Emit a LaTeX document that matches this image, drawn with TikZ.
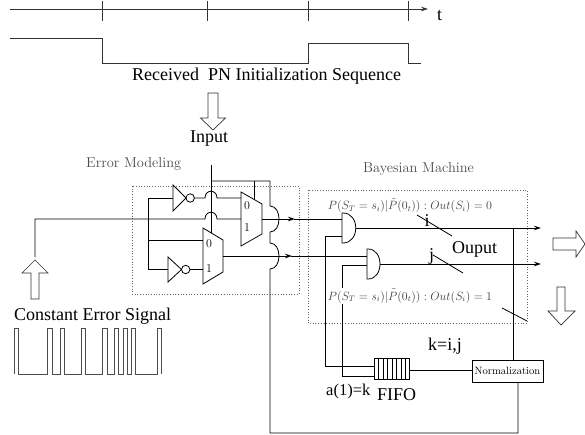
\documentclass[tikz,border=0pt]{standalone}
\usepackage{fontspec}
\newfontfamily\tms{Liberation Serif}
\usetikzlibrary{arrows.meta}
\begin{document}
\begin{tikzpicture}[x=1pt,y=-1pt,
  wire/.style={line width=0.8pt},
  thinwire/.style={line width=0.7pt, draw=black!80},
  big/.style={font=\tms\fontsize{18}{20}\selectfont, inner sep=0pt},
  cmlab/.style={font=\fontsize{14.4}{16}\selectfont, text=black!70, inner sep=0pt},
  formula/.style={font=\fontsize{11.5}{13}\selectfont, text=black!75, inner sep=1pt},
  muxlab/.style={font=\fontsize{12}{14}\selectfont, inner sep=0pt},
  hollow/.style={draw=black!80, line width=0.7pt, fill=white},
  dotbox/.style={draw=black!60, dotted, line width=0.7pt},
  tip/.style={-{Stealth[length=7pt,width=4.5pt]}}]
\useasboundingbox (0,0) rectangle (585,435);

% ---- timeline
\coordinate (tl0) at (10,9);
\coordinate (tl1) at (428,9);
\draw[thinwire,tip] (tl0) -- (tl1);
\foreach \x in {102,207,308,408} \draw[thinwire] (\x,1) -- (\x,21);
\node[big, anchor=base west] (tlab) at (437,21) {t};

% ---- PN sequence waveform
\draw[thinwire] (10,38) -- (102,38) -- (102,63) -- (308,63) -- (308,43) -- (408,43) -- (408,63) -- (421,63);
\node[big, anchor=base west] (pnlab) at (132,81) {Received\ \ PN Initialization Sequence};

% ---- Input arrow
\draw[hollow] (208,93) -- (218,93) -- (218,118) -- (225.5,118) -- (213,130) -- (200.5,118) -- (208,118) -- cycle;
\node[big, anchor=base west] (inlab) at (190,143) {Input};

% ---- labels of blocks
\node[cmlab, anchor=base west] (emlab) at (86,168) {Error Modeling};
\node[cmlab, anchor=base west] (bmlab) at (363,173) {Bayesian Machine};
\draw[dotbox] (132,186) rectangle (299,294);
\draw[dotbox] (308,190) rectangle (527,323);

% ---- multiplexers
\draw[wire] (241,192) -- (262,204) -- (262,234) -- (241,246) -- cycle;
\node[muxlab] (ma0) at (247,206) {0};
\node[muxlab] (ma1) at (247,228) {1};
\draw[wire] (203,228) -- (223,240) -- (223,272) -- (203,284) -- cycle;
\node[muxlab] (mb0) at (209,244) {0};
\node[muxlab] (mb1) at (209,269) {1};
\coordinate (maO) at (262,219);
\coordinate (mbO) at (223,256);

% ---- inverters
\draw[wire] (173,185) -- (173,211) -- (186,198) -- cycle;
\draw[wire] (190.2,198) circle (4.2);
\draw[wire] (168,257) -- (168,282) -- (181.5,269.5) -- cycle;
\draw[wire] (185.7,269.5) circle (4.2);

% ---- wiring inside error modeling
\coordinate (errtop) at (35,219);
\coordinate (errbot) at (35,257);
\draw[wire] (errbot) -- (errtop) -- (205,219) .. controls (205,210) and (217,210) .. (217,219) -- (241,219);
\draw[wire] (148,198) -- (148,269.5);
\draw[wire] (148,198) -- (173,198);
\draw[wire] (194.4,198) -- (205,198) .. controls (205,189) and (217,189) .. (217,198) -- (241,198);
\draw[wire] (148,240) -- (203,240);
\draw[wire] (148,269.5) -- (168,269.5);
\draw[wire] (189.9,269.5) -- (203,269.5);

% ---- select / feedback loop
\coordinate (inTop) at (211,165);
\draw[wire] (inTop) -- (211,232.8);
\draw[wire] (254,181) -- (254,199.4);
\draw[wire] (211,181) -- (270,181) -- (270,206)
   .. controls (282,206) and (282,232) .. (270,232) -- (270,243)
   .. controls (282,243) and (282,269) .. (270,269) -- (270,433) -- (518,433) -- (518,382);

% ---- mux outputs to AND gates
\draw[wire,tip] (maO) -- (295,219);
\draw[wire] (294,219) -- (342,219);
\draw[wire,tip] (mbO) -- (292,256);
\draw[wire] (291,256) -- (367,256);

% ---- AND gates
\draw[wire] (342,213) -- (343,213) .. controls (360,213) and (360,243) .. (343,243) -- (342,243) -- cycle;
\draw[wire] (367,249) -- (368,249) .. controls (384,249) and (384,279) .. (368,279) -- (367,279) -- cycle;
\coordinate (andA) at (355.7,228);
\coordinate (andB) at (380,264);
\draw[wire,tip] (andA) -- (541,228);
\draw[wire,tip] (andB) -- (541,264);

% ---- switches
\draw[wire] (417,215) -- (452,236);
\draw[wire] (433,255) -- (463,273);
\draw[wire] (502,308) -- (527,321);
\node[big, anchor=base west] (ilab) at (424.5,227) {i};
\node[big, anchor=base west] (jlab) at (429,260) {j};
\node[big, anchor=base west] (outlab) at (452,253) {Ouput};

% ---- FIFO and normalization
\node[draw, wire, minimum width=35pt, minimum height=21pt, inner sep=0pt] (fifo) at (391.5,368.5) {};
\foreach \x in {378.5,383,387.5,392,396.5,401,405.5} \draw[wire] (\x,358) -- (\x,379);
\node[draw, wire, minimum width=71pt, minimum height=22pt, inner sep=0pt,
      font=\fontsize{10.6}{12}\selectfont] (norm) at (507.5,371) {Normalization};
\draw[wire] (fifo.east |- 0,370) -- (norm.west |- 0,370);
\draw[wire] (513,228) -- (513,360);

% ---- feedback from FIFO
\draw[wire] (374,366) -- (325,366) -- (325,236) -- (342,236);
\draw[wire] (374,376) -- (342,376) -- (342,265) -- (367,265);

% ---- formulas
\node[formula] (f0) at (410,206) {$P(S_T=s_i)|\tilde{P}(0_t)):Out(S_i)=0$};
\node[formula, fill=white] (f1) at (410,296) {$P(S_T=s_i)|\tilde{P}(0_t)):Out(S_i)=1$};

\node[big, anchor=base west] (klab) at (428,350) {k=i,j};
\node[big, anchor=base west, font=\tms\fontsize{16.5}{18}\selectfont] (alab) at (326,395) {a(1)=k};
\node[big, anchor=base west] (fifolab) at (377,400) {FIFO};

% ---- output arrows
\draw[hollow] (553,238) -- (576,238) -- (576,231) -- (585,244) -- (576,257) -- (576,250) -- (553,250) -- cycle;
\draw[hollow] (557,287) -- (565,287) -- (565,311) -- (575,311) -- (561,325) -- (548,311) -- (557,311) -- cycle;

% ---- constant error signal
\draw[hollow] (31,299) -- (39,299) -- (39,273) -- (48,273) -- (35,260) -- (22,273) -- (31,273) -- cycle;
\node[big, anchor=base west] (celab) at (14,320) {Constant Error Signal};
\draw[thinwire, draw=black!70]
  (14,374) -- (14,328) -- (18,328) -- (18,374)
  -- (47,374) -- (47,328) -- (52,328) -- (52,374)
  -- (60,374) -- (60,328) -- (64,328) -- (64,374)
  -- (81,374) -- (81,328) -- (85,328) -- (85,374)
  -- (102,374) -- (102,328) -- (107,328) -- (107,374)
  -- (114,374) -- (114,328) -- (118,328) -- (118,374)
  -- (123,374) -- (123,328) -- (127,328) -- (127,374)
  -- (131,374) -- (131,328) -- (135,328) -- (135,374)
  -- (157,374) -- (157,328) -- (161,328) -- (161,374);
\end{tikzpicture}
\end{document}
